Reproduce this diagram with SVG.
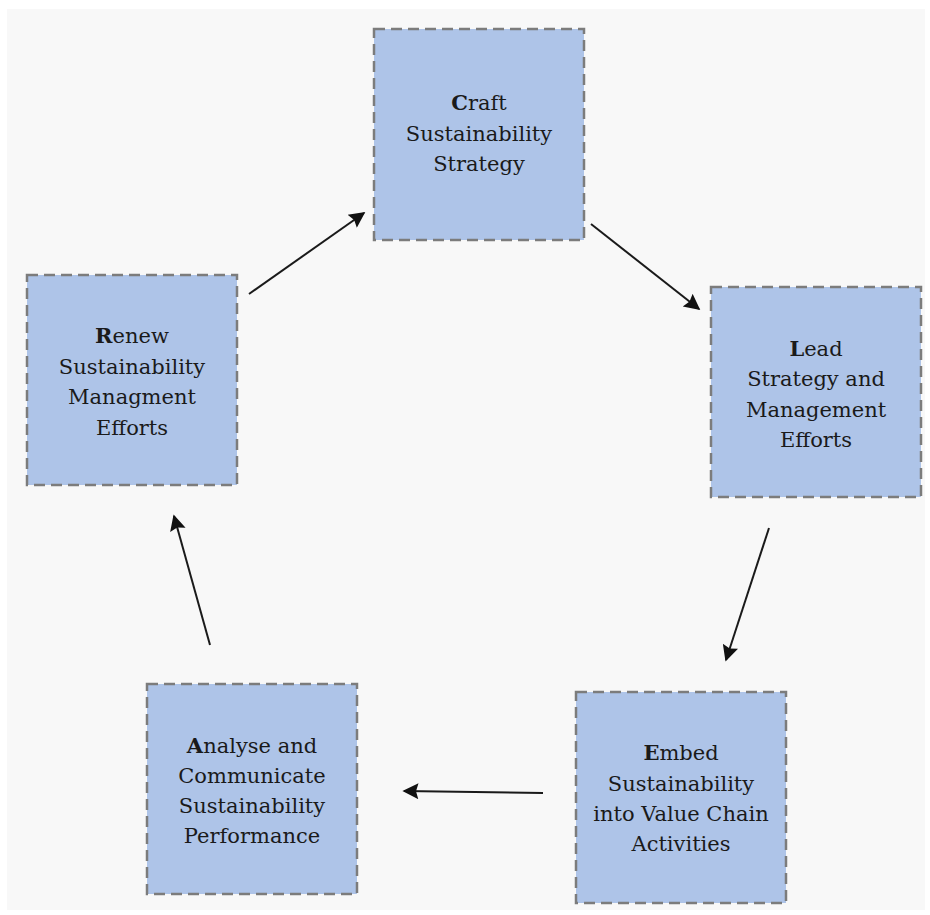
<svg xmlns="http://www.w3.org/2000/svg" width="930" height="915" viewBox="0 0 930 915">
<style>
.box{fill:#aec4e8;stroke:#7c7c7c;stroke-width:2.5;stroke-dasharray:11 6}
.lbl{font-family:"DejaVu Serif","Liberation Serif",serif;font-size:21px;fill:#1a1a1a;text-anchor:middle}
.b{font-weight:bold}
.conn{stroke:#1a1a1a;stroke-width:2;fill:none;marker-end:url(#ah)}
</style>
<defs>
<marker id="ah" viewBox="0 0 10 10" refX="9" refY="5" markerWidth="9" markerHeight="8" markerUnits="strokeWidth" orient="auto">
<path d="M0,0 L10,5 L0,10 L1.5,5 z" fill="#111"/>
</marker>
</defs>
<rect x="0" y="0" width="930" height="915" fill="#ffffff"/>
<rect x="7" y="9" width="918" height="901" fill="#f8f8f8"/>
<g id="connectors">
<line class="conn" x1="249" y1="294" x2="364" y2="213"/>
<line class="conn" x1="591" y1="224" x2="699" y2="309"/>
<line class="conn" x1="769" y1="528" x2="726" y2="660"/>
<line class="conn" x1="543" y1="793" x2="404" y2="791"/>
<line class="conn" x1="210" y1="645" x2="174" y2="516"/>
</g>
<g id="craft">
<rect class="box" x="374" y="29" width="210" height="211"/>
<text class="lbl" x="479" y="110"><tspan class="b">C</tspan>raft</text>
<text class="lbl" x="479" y="141">Sustainability</text>
<text class="lbl" x="479" y="171">Strategy</text>
</g>
<g id="lead">
<rect class="box" x="711" y="287" width="210" height="210"/>
<text class="lbl" x="816" y="356"><tspan class="b">L</tspan>ead</text>
<text class="lbl" x="816" y="386">Strategy and</text>
<text class="lbl" x="816" y="417">Management</text>
<text class="lbl" x="816" y="447">Efforts</text>
</g>
<g id="embed">
<rect class="box" x="576" y="692" width="210" height="211"/>
<text class="lbl" x="681" y="760"><tspan class="b">E</tspan>mbed</text>
<text class="lbl" x="681" y="791">Sustainability</text>
<text class="lbl" x="681" y="821">into Value Chain</text>
<text class="lbl" x="681" y="851">Activities</text>
</g>
<g id="analyse">
<rect class="box" x="147" y="684" width="210" height="210"/>
<text class="lbl" x="252" y="753"><tspan class="b">A</tspan>nalyse and</text>
<text class="lbl" x="252" y="783">Communicate</text>
<text class="lbl" x="252" y="813">Sustainability</text>
<text class="lbl" x="252" y="843">Performance</text>
</g>
<g id="renew">
<rect class="box" x="27" y="275" width="210" height="210"/>
<text class="lbl" x="132" y="343"><tspan class="b">R</tspan>enew</text>
<text class="lbl" x="132" y="374">Sustainability</text>
<text class="lbl" x="132" y="404">Managment</text>
<text class="lbl" x="132" y="435">Efforts</text>
</g>
</svg>
